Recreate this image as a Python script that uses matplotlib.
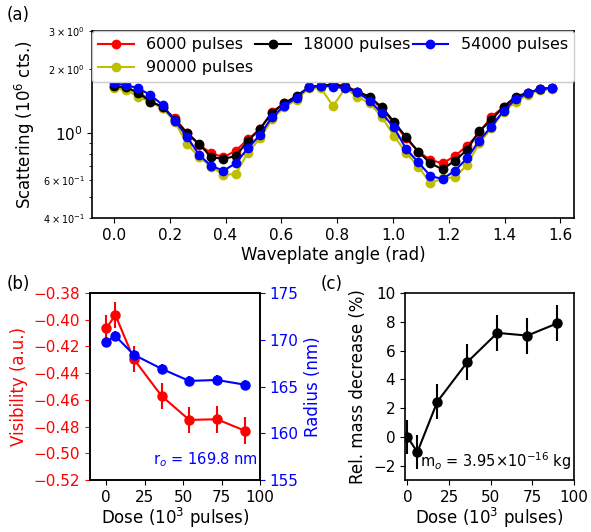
import numpy as np
import matplotlib
matplotlib.use("Agg")
import matplotlib.pyplot as plt

# Panel (a): scattering vs waveplate angle, 37 steps of pi/72
angle = np.arange(37) * np.pi / 72

scat_6000 = [1.636, 1.601, 1.561, 1.410, 1.305, 1.179, 0.997, 0.879, 0.804, 0.770,
             0.826, 0.934, 1.041, 1.258, 1.377, 1.470, 1.636, 1.665, 1.677, 1.665,
             1.561, 1.453, 1.305, 1.110, 0.944, 0.818, 0.748, 0.721, 0.780, 0.870,
             0.997, 1.192, 1.319, 1.453, 1.534, 1.606, 1.618]
scat_18000 = [1.660, 1.636, 1.544, 1.400, 1.328, 1.150, 1.003, 0.888, 0.770, 0.756,
              0.780, 0.917, 1.047, 1.245, 1.377, 1.490, 1.636, 1.660, 1.690, 1.647,
              1.561, 1.479, 1.319, 1.129, 0.955, 0.818, 0.721, 0.676, 0.742, 0.833,
              1.022, 1.150, 1.328, 1.479, 1.544, 1.606, 1.629]
scat_54000 = [1.708, 1.677, 1.618, 1.506, 1.352, 1.142, 0.961, 0.789, 0.701, 0.666,
              0.721, 0.848, 0.979, 1.192, 1.340, 1.460, 1.647, 1.665, 1.647, 1.618,
              1.551, 1.416, 1.236, 1.063, 0.842, 0.729, 0.629, 0.609, 0.666, 0.761,
              0.920, 1.070, 1.272, 1.438, 1.534, 1.606, 1.629]
scat_90000 = [1.618, 1.589, 1.479, 1.392, 1.305, 1.129, 0.888, 0.770, 0.696, 0.636,
              0.643, 0.809, 0.944, 1.159, 1.320, 1.430, 1.618, 1.618, 1.338, 1.618,
              1.479, 1.377, 1.192, 0.968, 0.809, 0.696, 0.582, 0.614, 0.620, 0.708,
              0.895, 1.052, 1.258, 1.401, 1.506, 1.589, 1.601]

# Panels (b) and (c): dose in 10^3 pulses
dose = [0, 6, 18, 36, 54, 72, 90]
visibility = [-0.4065, -0.3965, -0.4295, -0.457, -0.475, -0.4745, -0.483]
visibility_err = [0.010, 0.010, 0.010, 0.010, 0.010, 0.010, 0.010]
radius = [169.8, 170.4, 168.4, 166.9, 165.6, 165.7, 165.2]
radius_err = [0.55, 0.55, 0.55, 0.55, 0.55, 0.55, 0.55]
mass_dec = [0.0, -1.06, 2.45, 5.2, 7.23, 7.04, 7.9]
mass_err = [1.2, 1.2, 1.2, 1.25, 1.25, 1.25, 1.25]

plt.rcParams["font.size"] = 12
plt.rcParams["xtick.labelsize"] = 11
plt.rcParams["ytick.labelsize"] = 11
plt.rcParams["axes.linewidth"] = 1.2

fig = plt.figure(figsize=(5.91, 5.32), dpi=100)

# (a)
ax = fig.add_axes([0.1557, 0.5902, 0.8156, 0.3515])
series = [(scat_6000, "r", "6000 pulses"),
          (scat_90000, "y", "90000 pulses"),
          (scat_18000, "k", "18000 pulses"),
          (scat_54000, "b", "54000 pulses")]
for vals, c, lab in series:
    ax.plot(angle, vals, "-o", color=c, ms=6, lw=1.5, label=lab)
ax.set_yscale("log")
ax.set_ylim(0.4, 3)
ax.set_xlim(-0.0785, 1.649)
ax.set_xticks(np.arange(0, 1.61, 0.2))
ax.tick_params(axis="y", which="minor", labelsize=7)
ax.set_xlabel("Waveplate angle (rad)", labelpad=2)
ax.set_ylabel("Scattering (10$^6$ cts.)")
ax.legend(ncol=3, loc="upper left", bbox_to_anchor=(0, 0, 1, 1), mode="expand",
          borderaxespad=0, framealpha=1, fontsize=11.5, handlelength=2.2,
          columnspacing=0.8)

# (b)
axb = fig.add_axes([0.1523, 0.0977, 0.2876, 0.3515])
axb.errorbar(dose, visibility, yerr=visibility_err, fmt="-o", color="r",
             ms=6.5, lw=1.5, elinewidth=1.5)
axb.set_xlim(-10.5, 100)
axb.set_ylim(-0.52, -0.38)
axb.set_yticks(np.arange(-0.52, -0.379, 0.02))
axb.set_xticks([0, 25, 50, 75, 100])
axb.tick_params(axis="y", colors="r")
axb.set_ylabel("Visibility (a.u.)", color="r")
axb.set_xlabel("Dose (10$^3$ pulses)", labelpad=1)

axr = axb.twinx()
axr.errorbar(dose, radius, yerr=radius_err, fmt="-o", color="b",
             ms=6.5, lw=1.5, elinewidth=1.5)
axr.set_ylim(155, 175)
axr.set_yticks([155, 160, 165, 170, 175])
axr.tick_params(axis="y", colors="b")
axr.set_ylabel("Radius (nm)", color="b")
axr.text(0.985, 0.11, "r$_o$ = 169.8 nm", color="b", fontsize=10.5,
         ha="right", va="center", transform=axr.transAxes)

# (c)
axc = fig.add_axes([0.6853, 0.0977, 0.286, 0.3515])
axc.errorbar(dose, mass_dec, yerr=mass_err, fmt="-o", color="k",
             ms=6.5, lw=1.5, elinewidth=1.5)
axc.set_xlim(-1.4, 100)
axc.set_ylim(-3, 10)
axc.set_xticks([0, 25, 50, 75, 100])
axc.set_yticks([-2, 0, 2, 4, 6, 8, 10])
axc.set_xlabel("Dose (10$^3$ pulses)", labelpad=1)
axc.set_ylabel("Rel. mass decrease (%)")
axc.text(0.985, 0.1, r"m$_o$ = 3.95$\times$10$^{-16}$ kg", fontsize=10.5,
         ha="right", va="center", transform=axc.transAxes)

fig.text(0.012, 0.972, "(a)", fontsize=12, va="center")
fig.text(0.012, 0.466, "(b)", fontsize=12, va="center")
fig.text(0.543, 0.466, "(c)", fontsize=12, va="center")

fig.savefig("out.png", dpi=100)
